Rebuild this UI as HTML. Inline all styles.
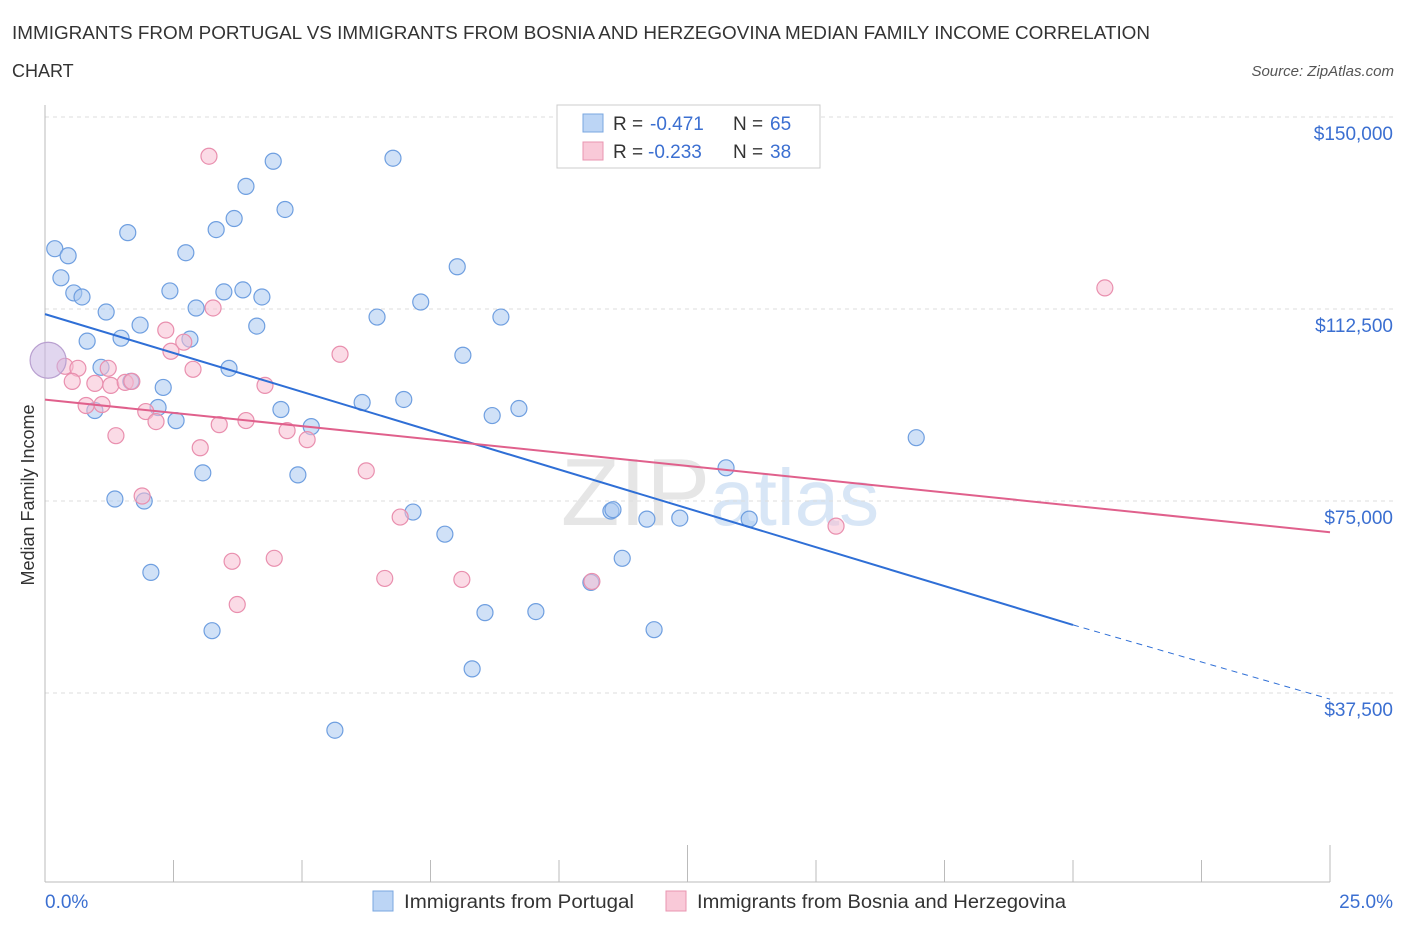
<!DOCTYPE html>
<html><head><meta charset="utf-8"><style>
body{margin:0;background:#fff;font-family:"Liberation Sans",sans-serif}
svg text{font-family:"Liberation Sans",sans-serif}
</style></head><body>
<svg id="c" width="1406" height="930" xmlns="http://www.w3.org/2000/svg">
<text x="12" y="39" font-size="18" fill="#333" textLength="1138" lengthAdjust="spacingAndGlyphs">IMMIGRANTS FROM PORTUGAL VS IMMIGRANTS FROM BOSNIA AND HERZEGOVINA MEDIAN FAMILY INCOME CORRELATION</text>
<text x="12" y="77" font-size="18" fill="#333">CHART</text>
<text x="1394" y="76" font-size="15" fill="#555" font-style="italic" text-anchor="end">Source: ZipAtlas.com</text>
<text x="720" y="525" font-size="96" fill="#e6e6e6" font-family="Liberation Serif" text-anchor="middle">ZIP<tspan fill="#d8e6f6" font-family="Liberation Sans" font-size="80">atlas</tspan></text>
<g id="grid"></g><g id="axes"></g><g id="pts"></g><g id="trend"></g>
<text transform="translate(34,495) rotate(-90)" font-size="18" fill="#333" text-anchor="middle">Median Family Income</text>
<g>
<rect x="557" y="105" width="263" height="63" fill="#fff" stroke="#ccc"/>
<rect x="583" y="114" width="20" height="18" fill="#bcd5f5" stroke="#7aa7e0"/>
<rect x="583" y="142" width="20" height="18" fill="#f9c9d8" stroke="#e995b0"/>
<text x="613" y="130" font-size="19" fill="#333">R =</text>
<text x="650" y="130" font-size="19" fill="#3b6fd1">-0.471</text>
<text x="733" y="130" font-size="19" fill="#333">N =</text>
<text x="770" y="130" font-size="19" fill="#3b6fd1">65</text>
<text x="613" y="158" font-size="19" fill="#333">R =</text>
<text x="648" y="158" font-size="19" fill="#3b6fd1">-0.233</text>
<text x="733" y="158" font-size="19" fill="#333">N =</text>
<text x="770" y="158" font-size="19" fill="#3b6fd1">38</text>
</g>
<g>
<rect x="373" y="891" width="20" height="20" fill="#bcd5f5" stroke="#7aa7e0"/>
<text x="404" y="908" font-size="19" fill="#333" textLength="230" lengthAdjust="spacingAndGlyphs">Immigrants from Portugal</text>
<rect x="666" y="891" width="20" height="20" fill="#f9c9d8" stroke="#e995b0"/>
<text x="697" y="908" font-size="19" fill="#333" textLength="369" lengthAdjust="spacingAndGlyphs">Immigrants from Bosnia and Herzegovina</text>
</g>
</svg>
<script>
const blueX=[0.19,0.45,0.31,0.56,0.72,1.19,1.61,0.82,1.48,1.85,1.09,1.67,2.30,0.97,2.20,2.55,2.43,2.74,2.94,3.33,3.68,3.91,4.44,4.67,3.48,3.85,4.22,4.12,3.58,2.82,1.36,1.93,2.06,3.07,3.25,4.59,4.92,5.18,5.64,6.17,6.46,6.77,6.98,7.31,8.02,8.13,8.87,8.70,9.22,7.16,7.78,8.31,8.56,9.55,10.62,11.01,11.05,11.23,11.71,11.85,12.35,13.25,13.70,16.95];
const blueY=[124280,122900,118590,115640,114850,111910,127420,106220,106800,109360,101110,98360,97180,92670,93260,90700,116030,123490,112690,128010,130170,136450,141360,131940,115840,116230,114850,109160,100910,106610,75390,75000,61060,80500,49670,92870,80100,89530,30230,94240,110930,141950,94830,113870,120750,103470,110930,91690,93060,72840,68520,42210,53200,53400,59100,73040,73300,63810,71460,49870,71660,81480,71460,87370];
const pinkX=[3.19,20.62,3.27,2.35,2.70,2.45,5.74,0.39,0.64,1.23,2.88,0.53,0.97,1.28,1.56,1.69,4.28,0.80,1.11,1.96,2.16,3.91,3.39,4.71,5.10,1.38,3.02,6.25,1.89,6.91,15.39,4.46,3.64,6.61,8.11,10.64,3.74];
const pinkY=[142340,116620,112700,108380,106020,104250,103660,101310,100920,100920,100720,98360,97970,97580,98170,98360,97580,93650,93850,92470,90510,90710,89920,88740,86980,87760,85400,80890,75980,71860,70090,63810,63220,59880,59680,59290,54780];
const bigX=0.06, bigY=102490;
const yTicks=[150000,112500,75000,37500];
const yLabels=["$150,000","$112,500","$75,000","$37,500"];
const trendBlue=[111500,50800,36300]; // at 0%, 20%, 25%
const trendPink=[94800,68900];
const NS="http://www.w3.org/2000/svg";
const X=p=>45+p/25*1285;
const Y=v=>117+(150000-v)/37500*192;
function mk(t,a,par){const e=document.createElementNS(NS,t);for(const k in a)e.setAttribute(k,a[k]);document.getElementById(par).appendChild(e);return e;}
yTicks.forEach((v,i)=>{
 const g=mk('line',{x1:45,x2:1393,y1:Y(v),y2:Y(v),stroke:'#ddd','stroke-dasharray':'4 4'},'grid');
 
 
 const t=mk('text',{x:1393,y:Y(v)+23,'font-size':19,fill:'#3b6fd1','text-anchor':'end'},'grid');
 t.textContent=yLabels[i];
 
 
});
let a=mk('line',{x1:45,x2:1330,y1:882,y2:882,stroke:'#bbb'},'axes');


a=mk('line',{x1:45,x2:45,y1:105,y2:882,stroke:'#bbb'},'axes');


for(let i=0;i<=10;i++){const t=mk('line',{x1:X(i*2.5),x2:X(i*2.5),y1:882,y2:i==5||i==10?845:860,stroke:'#bbb'},'axes');
 
 }
let tl=mk('text',{x:45,y:908,'font-size':19,fill:'#3b6fd1'},'axes');tl.textContent='0.0%';


tl=mk('text',{x:1393,y:908,'font-size':19,fill:'#3b6fd1','text-anchor':'end'},'axes');tl.textContent='25.0%';


blueX.forEach((x,i)=>{const c=mk('circle',{cx:X(x),cy:Y(blueY[i]),r:8,fill:'rgba(170,200,240,0.55)',stroke:'#6f9fe0','stroke-width':1.2},'pts');
 
 });
pinkX.forEach((x,i)=>{const c=mk('circle',{cx:X(x),cy:Y(pinkY[i]),r:8,fill:'rgba(248,190,210,0.55)',stroke:'#e98fae','stroke-width':1.2},'pts');
 
 });
const b=mk('circle',{cx:X(bigX),cy:Y(bigY),r:18,fill:'rgba(200,180,225,0.55)',stroke:'#b9a0d0','stroke-width':1.2},'pts');


let l=mk('line',{x1:X(0),y1:Y(trendBlue[0]),x2:X(20),y2:Y(trendBlue[1]),stroke:'#2f6fd6','stroke-width':2},'trend');


l=mk('line',{x1:X(20),y1:Y(trendBlue[1]),x2:X(25),y2:Y(trendBlue[2]),stroke:'#2f6fd6','stroke-width':1,'stroke-dasharray':'6 5'},'trend');


l=mk('line',{x1:X(0),y1:Y(trendPink[0]),x2:X(25),y2:Y(trendPink[1]),stroke:'#e0608c','stroke-width':2},'trend');


</script>
</body></html>
